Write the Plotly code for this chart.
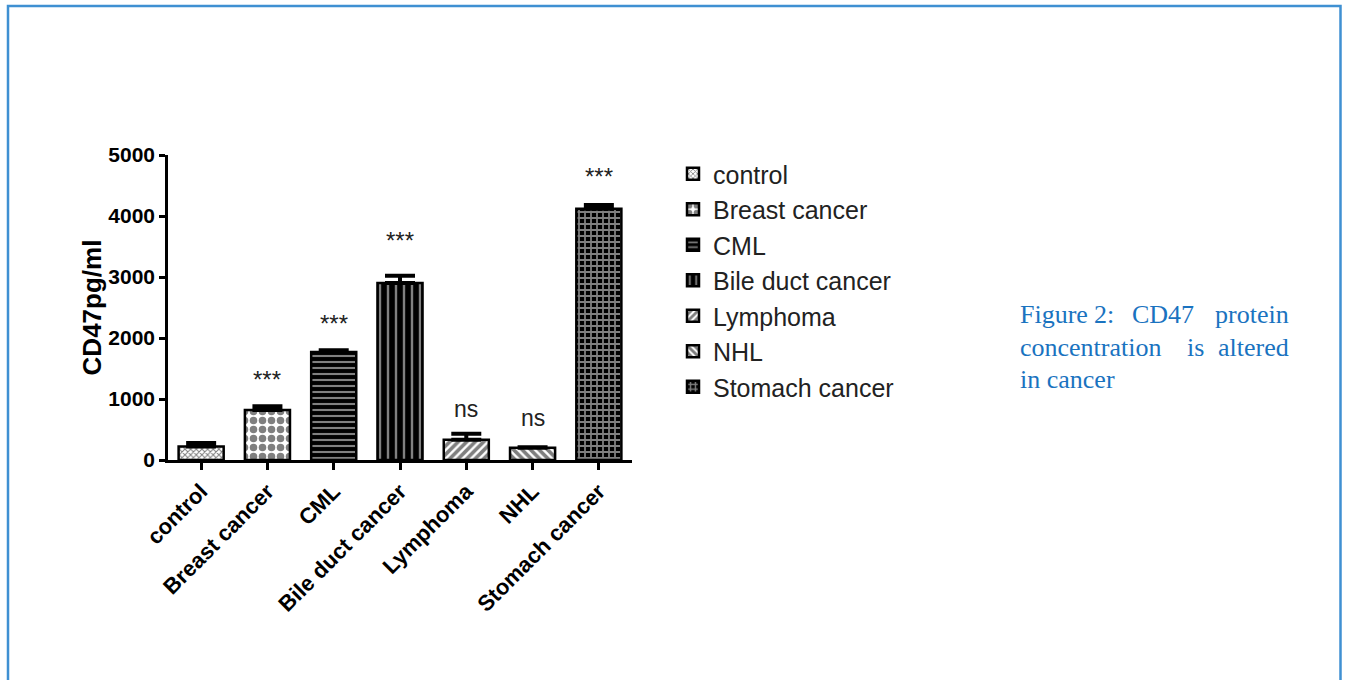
import plotly.graph_objects as go

categories = ["control", "Breast cancer", "CML", "Bile duct cancer", "Lymphoma", "NHL", "Stomach cancer"]
means = [220, 820, 1770, 2900, 330, 200, 4120]
errors = [60, 60, 30, 120, 100, 10, 60]
sig_labels = ["", "***", "***", "***", "ns", "ns", "***"]
sig_y = [0, 1320, 2240, 3600, 830, 690, 4640]

patterns = [
    dict(shape="x", size=4, solidity=0.45, fgcolor="black", bgcolor="white"),
    dict(shape=".", size=9, solidity=0.55, fgcolor="black", bgcolor="white"),
    dict(shape="-", size=6, solidity=0.35, fgcolor="white", bgcolor="black"),
    dict(shape="|", size=8, solidity=0.3, fgcolor="white", bgcolor="black"),
    dict(shape="/", size=6, solidity=0.6, fgcolor="black", bgcolor="white"),
    dict(shape="\\", size=6, solidity=0.6, fgcolor="black", bgcolor="white"),
    dict(shape="+", size=6, solidity=0.5, fgcolor="white", bgcolor="black"),
]

W, H = 1345, 680
L, R, T, B = 168, 713, 155, 220
pw = W - L - R
ph = H - T - B

fig = go.Figure()
for i, c in enumerate(categories):
    fig.add_trace(go.Bar(
        x=[c], y=[means[i]], name=c, width=0.68,
        marker=dict(color="white", line=dict(color="black", width=2.5), pattern=patterns[i]),
        error_y=dict(type="data", array=[errors[i]], arrayminus=[0], symmetric=False,
                     color="black", thickness=4, width=15),
    ))

for i, c in enumerate(categories):
    if not sig_labels[i]:
        continue
    fs = 24 if sig_labels[i] == "***" else 23
    fig.add_annotation(x=c, y=sig_y[i], text=sig_labels[i], showarrow=False,
                       font=dict(family="Liberation Sans, Arial", size=fs, color="#222"),
                       xanchor="center", yanchor="middle")

def px_x(px):
    return (px - L) / pw

def px_y(py):
    return (H - B - py) / ph

cap_color = "#1a73c0"
cap_font = dict(family="Liberation Serif, Times New Roman", size=26, color=cap_color)
caption_words = [
    [("Figure", 1018, "left"), ("2:", 1104, "center"), ("CD47", 1163, "center"), ("protein", 1291, "right")],
    [("concentration", 1018, "left"), ("is", 1195, "center"), ("altered", 1291, "right")],
    [("in cancer", 1018, "left")],
]
line_y = [314, 347, 379]
for li, words in enumerate(caption_words):
    for w, xpx, anc in words:
        fig.add_annotation(xref="paper", yref="paper", x=px_x(xpx), y=px_y(line_y[li]),
                           text=w, showarrow=False, xanchor=anc, yanchor="middle", font=cap_font)

# outer frame
fig.add_shape(type="rect", xref="paper", yref="paper",
              x0=px_x(8), x1=px_x(1340.5), y0=px_y(700), y1=px_y(6),
              line=dict(color="#3f90d2", width=2.5), fillcolor="rgba(0,0,0,0)", layer="below")

fig.update_layout(
    width=W, height=H,
    margin=dict(l=L, r=R, t=T, b=B),
    plot_bgcolor="white", paper_bgcolor="white",
    barmode="overlay",
    showlegend=True,
    legend=dict(x=px_x(673), y=px_y(151), xanchor="left", yanchor="top",
                font=dict(family="Liberation Sans, Arial", size=25, color="#222"),
                tracegroupgap=0, bgcolor="rgba(0,0,0,0)"),
    font=dict(family="Liberation Sans, Arial", color="black"),
)
fig.update_xaxes(
    range=[-0.5, 6.5], showline=True, linecolor="black", linewidth=2.5,
    ticks="outside", ticklen=7, tickwidth=2.5, tickcolor="black",
    tickangle=-45, tickfont=dict(family="Liberation Sans, Arial", size=22, weight="bold", color="black"),
    showgrid=False, zeroline=False,
)
fig.update_yaxes(
    range=[0, 5000], dtick=1000, showline=True, linecolor="black", linewidth=2.5,
    ticks="outside", ticklen=6, tickwidth=2.5, tickcolor="black",
    tickfont=dict(family="Liberation Sans, Arial", size=21, weight="bold", color="black"),
    title=dict(text="CD47pg/ml", font=dict(family="Liberation Sans, Arial", size=26, weight="bold", color="black"), standoff=0),
    showgrid=False, zeroline=False,
)

fig.write_html("out.html", config={"displayModeBar": False},
               post_script="document.body.style.margin='0';")
